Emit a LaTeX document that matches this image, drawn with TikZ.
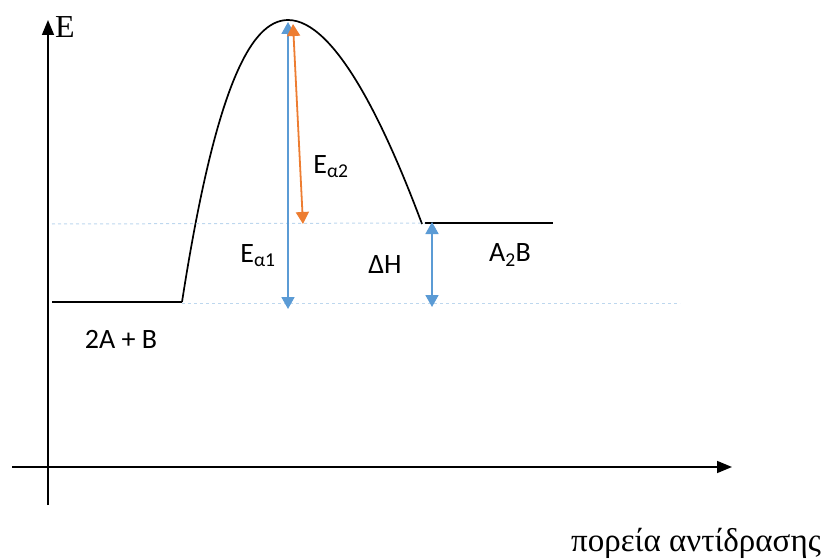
\documentclass[tikz,border=0pt]{standalone}
\usepackage{fontspec}
\setmainfont{Liberation Serif}
\newfontfamily\lblfont{Carlito}
\usetikzlibrary{arrows.meta}
\definecolor{exblue}{HTML}{5B9BD5}
\definecolor{exorange}{HTML}{ED7D31}
\definecolor{exdash}{HTML}{BDD7EE}
\begin{document}
\begin{tikzpicture}[x=1pt,y=-1pt,every node/.style={inner sep=0pt}]
\tikzstyle{axis}=[draw,line width=1.6pt,-{Triangle[length=15pt,width=12pt]}]
\tikzstyle{level}=[draw,line width=1.7pt]
\tikzstyle{guide}=[draw,exdash,dashed,line width=1pt]
\tikzstyle{gap}=[draw,line width=1.8pt,{Triangle[length=12pt,width=13pt]}-{Triangle[length=12pt,width=13pt]}]
\tikzstyle{lbl}=[font=\lblfont\fontsize{28}{32}\selectfont]
\useasboundingbox (0,0) rectangle (830,559);

% axes
\coordinate (o) at (48,505);
\coordinate (ytop) at (48,20);
\coordinate (xl) at (12,467);
\coordinate (xr) at (732,467);
\path[axis](o)--(ytop);
\path[axis](xl)--(xr);
\node[font=\fontsize{32}{34}\selectfont,anchor=west](E) at (55,27){E};
\node[font=\fontsize{33}{36}\selectfont](p) at (696,543){πορεία αντίδρασης};

% levels and curve
\coordinate (r0) at (52,302);
\coordinate (r1) at (182,302);
\coordinate (top) at (288,20);
\coordinate (c1) at (422,224);
\coordinate (p0) at (425,223);
\coordinate (p1) at (553,223);
\path[level](r0)--(r1);
\path[level](r1) .. controls (215,90) and (250,20) .. (top)
  .. controls (335,20) and (385,125) .. (c1);
\path[level](p0)--(p1);

% guides
\coordinate (g0) at (52,224);
\coordinate (g1) at (680,303);
\path[guide](g0)--(p0);
\path[guide](r1|-g1)--(g1);

% energy gaps
\coordinate (a1t) at (288,22);
\coordinate (a1b) at (288,309);
\coordinate (a2t) at (293,24);
\coordinate (a2b) at (303,224);
\coordinate (dht) at (432,222);
\coordinate (dhb) at (432,307);
\path[gap,exblue](a1t)--(a1b);
\path[gap,exorange](a2t)--(a2b);
\path[gap,exblue](dht)--(dhb);

\node[lbl](ea2) at (331,167){E\textsubscript{α2}};
\node[lbl](ea1) at (258,256){E\textsubscript{α1}};
\node[lbl](dh) at (385,265){ΔH};
\node[lbl](a2b) at (510,255){A\textsubscript{2}B};
\node[lbl](ab) at (121,339){2A + B};
\end{tikzpicture}
\end{document}
